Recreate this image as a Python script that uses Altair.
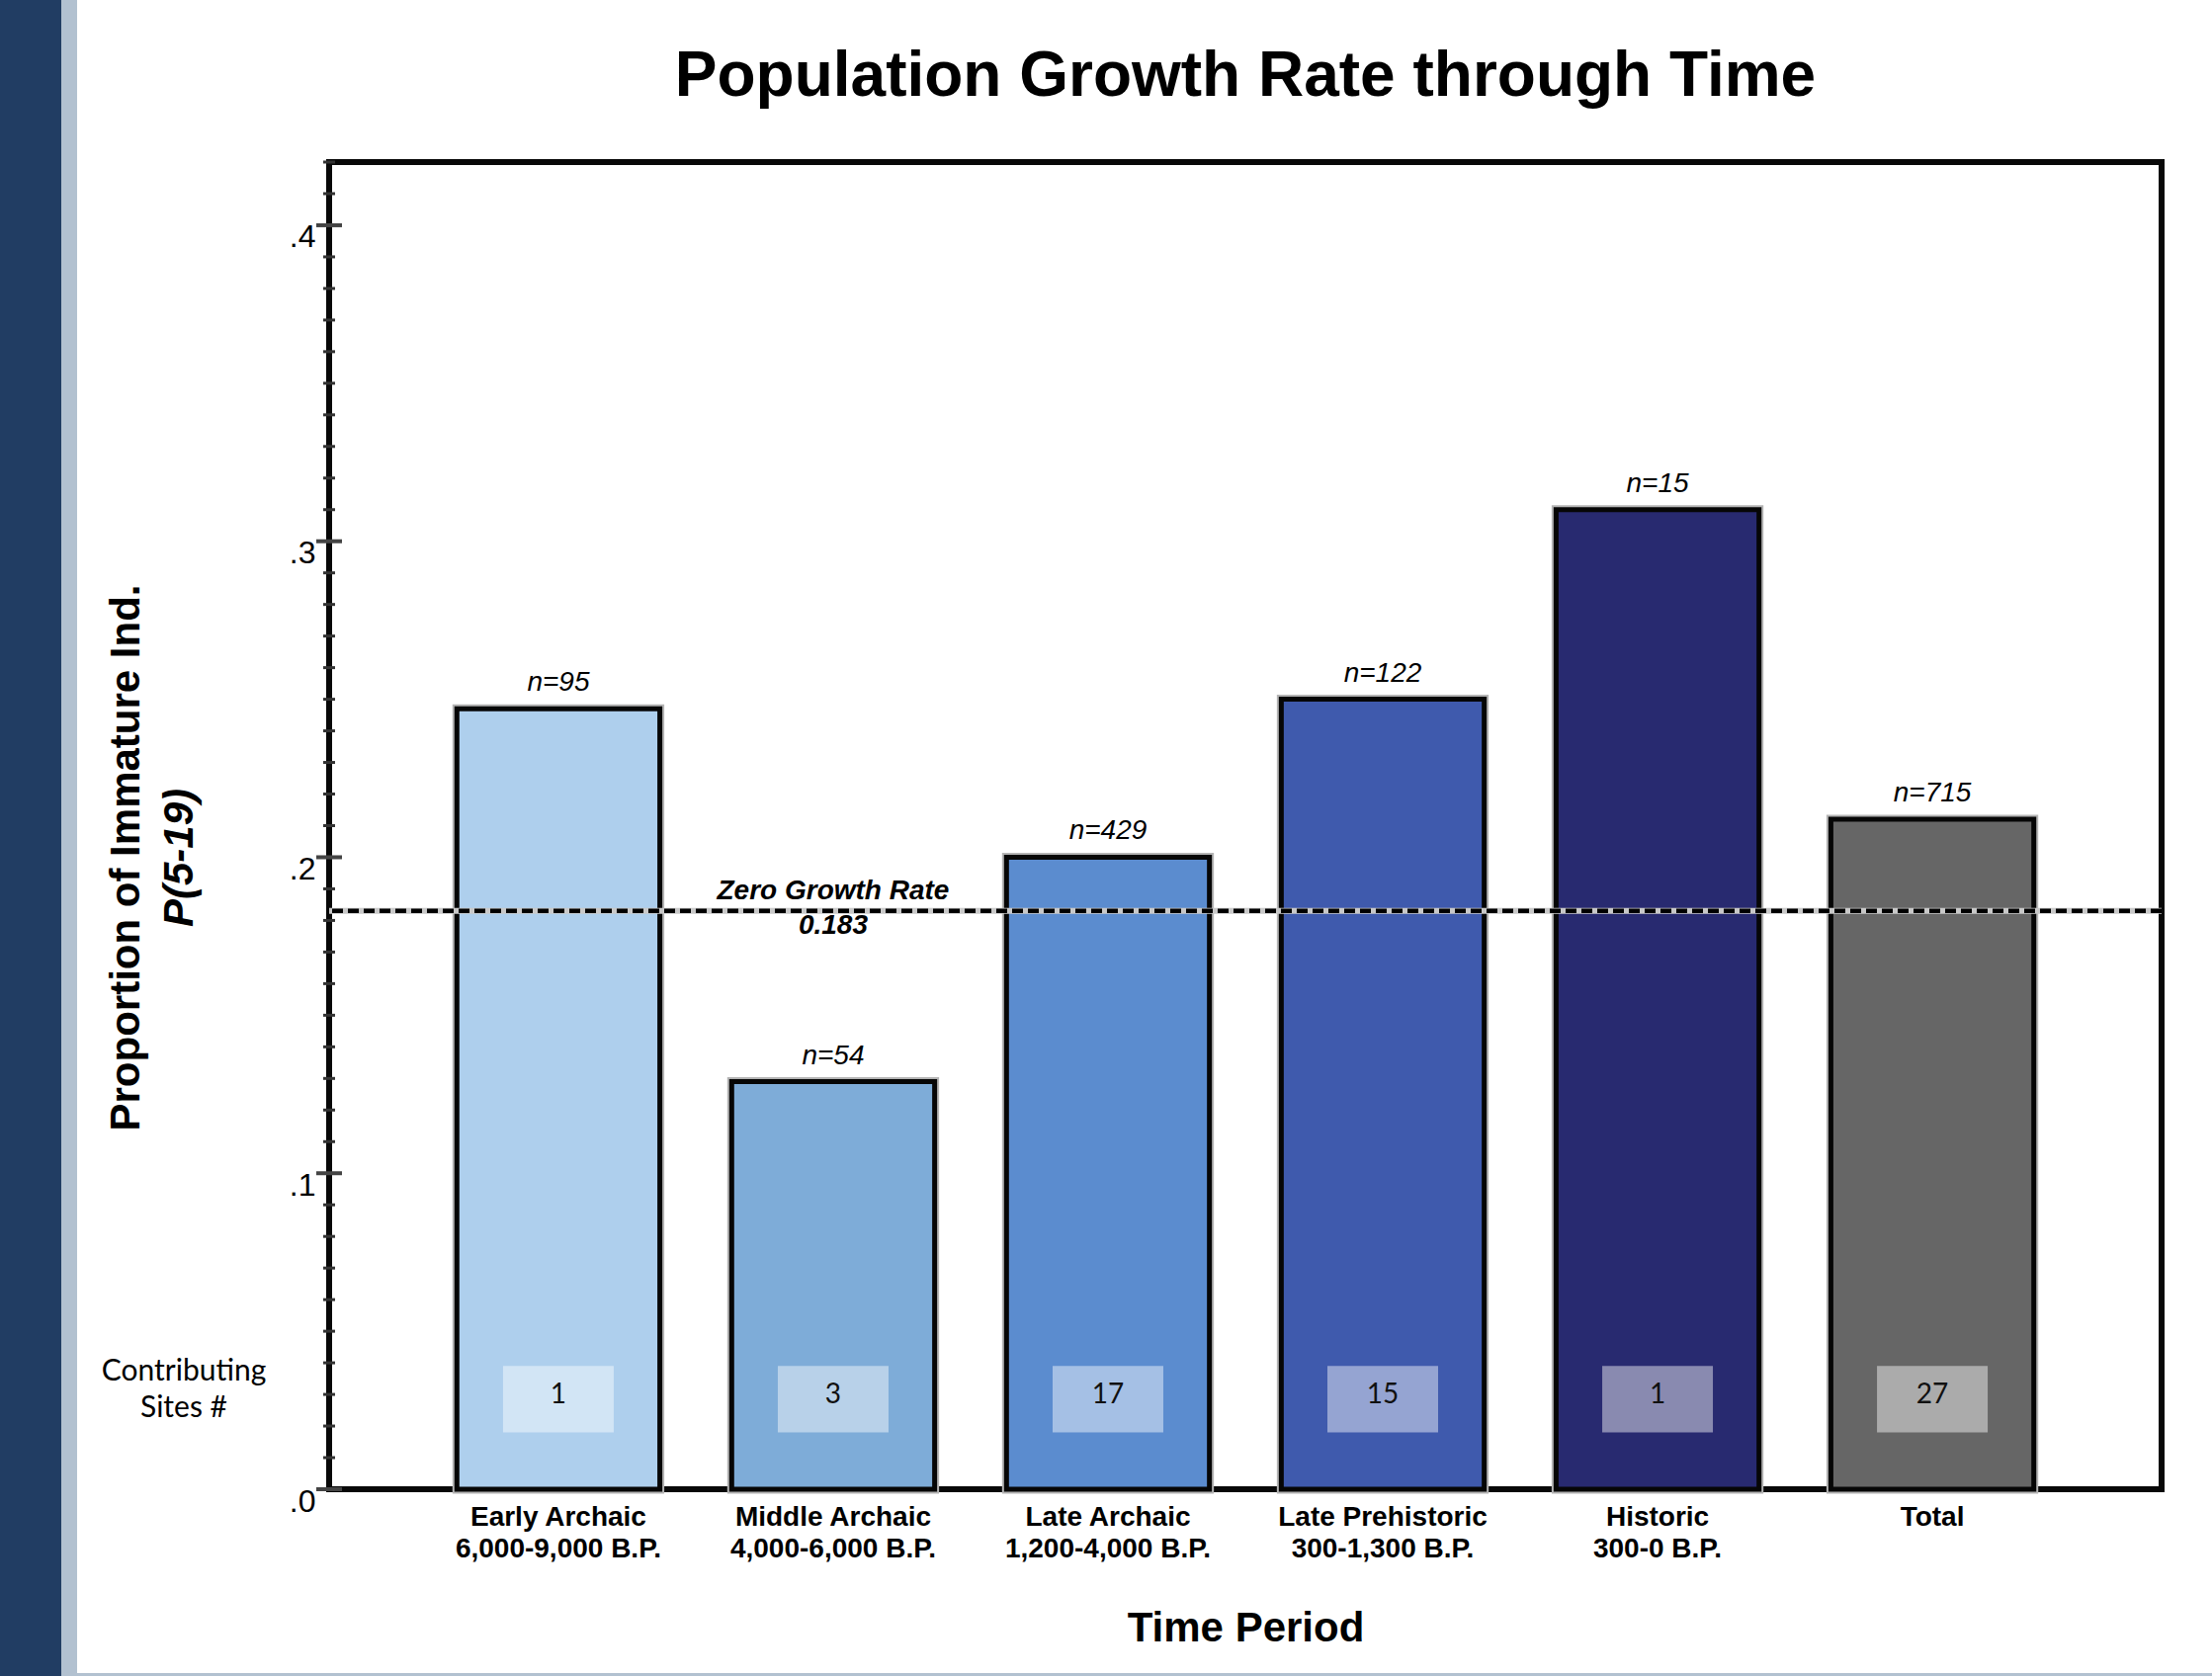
import altair as alt
import pandas as pd

# ---- chart values -------------------------------------------------------
periods = ["Early Archaic", "Middle Archaic", "Late Archaic",
           "Late Prehistoric", "Historic", "Total"]
date_ranges = ["6,000-9,000 B.P.", "4,000-6,000 B.P.", "1,200-4,000 B.P.",
               "300-1,300 B.P.", "300-0 B.P.", ""]
proportion_immature = [0.247, 0.129, 0.200, 0.250, 0.310, 0.212]
sample_size = [95, 54, 429, 122, 15, 715]
contributing_sites = [1, 3, 17, 15, 1, 27]
bar_colors = ["#aecfed", "#7eacd8", "#5b8ccf", "#3f5aad", "#282a70", "#666666"]

zero_growth_rate = 0.183
major_ticks = [0.0, 0.1, 0.2, 0.3, 0.4]
minor_ticks = [0.01, 0.02, 0.03, 0.04, 0.05, 0.06, 0.07, 0.08, 0.09,
               0.11, 0.12, 0.13, 0.14, 0.15, 0.16, 0.17, 0.18, 0.19,
               0.21, 0.22, 0.23, 0.24, 0.25, 0.26, 0.27, 0.28, 0.29,
               0.31, 0.32, 0.33, 0.34, 0.35, 0.36, 0.37, 0.38, 0.39,
               0.41, 0.42]

chart_title = "Population Growth Rate through Time"

# ---- layout / style -----------------------------------------------------
W, H = 1854, 1343
Y_MAX = 0.42
BOX_LOW, BOX_HIGH, BOX_MID = 0.018, 0.039, 0.0285
FONT = "Liberation Sans"
SOFT_FONT = "Lato"

categories = [p + ("\n" + r if r else "") for p, r in zip(periods, date_ranges)]

bars = pd.DataFrame({
    "period": categories,
    "value": proportion_immature,
    "n_label": [f"n={n}" for n in sample_size],
    "sites": [str(s) for s in contributing_sites],
    "fill": bar_colors,
})

x_enc = alt.X(
    "period:N",
    sort=categories,
    scale=alt.Scale(paddingInner=0.2615, paddingOuter=0.465),
    axis=alt.Axis(
        title="Time Period",
        labelExpr="split(datum.label, '\\n')",
        labelAngle=0, labelLimit=0,
        labelFont=FONT, labelFontSize=28, labelFontWeight="bold",
        labelColor="black", labelPadding=14, labelLineHeight=32,
        labelBaseline="top",
        domain=False, ticks=False, grid=False,
        titleFont=FONT, titleFontSize=42, titleFontWeight="bold",
        titleColor="black", titleY=140, titleBaseline="middle",
    ),
)

y_enc = alt.Y(
    "value:Q",
    scale=alt.Scale(domain=[0, Y_MAX], nice=False, zero=True),
    axis=alt.Axis(
        title=None,
        values=major_ticks,
        labelExpr="replace(format(datum.value, '.1f'), '0.', '.')",
        labelFont=FONT, labelFontSize=32, labelColor="black",
        labelPadding=14, labelOffset=12,
        ticks=False, domain=False, grid=False,
    ),
)

one_row = pd.DataFrame({"k": [0]})

# soft grey rim around each bar
bar_rim = alt.Chart(bars).mark_bar(
    color="#b4b4b4", stroke="#b4b4b4", strokeWidth=9
).encode(x=x_enc, y=y_enc)

bar_body = alt.Chart(bars).mark_bar(
    stroke="#060606", strokeWidth=5
).encode(x=x_enc, y=y_enc, fill=alt.Fill("fill:N", scale=None))

site_boxes = alt.Chart(bars).mark_bar(
    width=112, color="white", opacity=0.45
).encode(x=x_enc, y=alt.datum(BOX_LOW), y2=alt.datum(BOX_HIGH))

site_numbers = alt.Chart(bars).mark_text(
    font=SOFT_FONT, fontSize=28, color="#111111", baseline="middle", dy=-4
).encode(x=x_enc, y=alt.datum(BOX_MID), text="sites:N")

n_labels = alt.Chart(bars).mark_text(
    font=FONT, fontSize=28, fontStyle="italic", color="black",
    baseline="alphabetic", dy=-18
).encode(x=x_enc, y=y_enc, text="n_label:N")

zero_under = alt.Chart(one_row).mark_rule(
    color="#c8c8c8", strokeWidth=6
).encode(y=alt.datum(zero_growth_rate))

zero_line = alt.Chart(one_row).mark_rule(
    color="black", strokeWidth=4.5, strokeDash=[11, 5]
).encode(y=alt.datum(zero_growth_rate))

zero_label = alt.Chart(one_row).mark_text(
    font=FONT, fontSize=28, fontWeight="bold", fontStyle="italic",
    color="black", lineBreak="\n", lineHeight=35, baseline="middle",
    align="center", dy=-20
).encode(
    x=alt.datum(categories[1]),
    y=alt.datum(zero_growth_rate),
    text=alt.value(f"Zero Growth Rate\n{zero_growth_rate}"),
)

minor_tick_marks = alt.Chart(pd.DataFrame({"value": minor_ticks})).mark_rule(
    color="#333333", strokeWidth=3
).encode(y=y_enc, x=alt.value(-6), x2=alt.value(6))

major_tick_marks = alt.Chart(pd.DataFrame({"value": major_ticks})).mark_rule(
    color="#444444", strokeWidth=4
).encode(y=y_enc, x=alt.value(-13), x2=alt.value(13))

y_title_main = alt.Chart(one_row).mark_text(
    font=FONT, fontSize=42, fontWeight="bold", color="black",
    angle=270, align="center", baseline="middle"
).encode(x=alt.value(-205), y=alt.value(704),
         text=alt.value("Proportion of Immature Ind."))

y_title_sub = alt.Chart(one_row).mark_text(
    font=FONT, fontSize=42, fontWeight="bold", fontStyle="italic",
    color="black", angle=270, align="center", baseline="middle"
).encode(x=alt.value(-151), y=alt.value(704), text=alt.value("P(5-19)"))

sites_caption = alt.Chart(one_row).mark_text(
    font=SOFT_FONT, fontSize=30, color="black", lineBreak="\n",
    lineHeight=37, align="center", baseline="middle", dy=-28
).encode(x=alt.value(-147), y=alt.datum(BOX_MID),
         text=alt.value("Contributing\nSites #"))

# heading, centred over the plot frame
heading = alt.Chart(one_row).mark_text(
    font=FONT, fontSize=64, fontWeight="bold", color="black",
    align="center", baseline="alphabetic"
).encode(x=alt.value(W / 2), y=alt.value(-67), text=alt.value(chart_title))

# page decoration: navy side band, pale rule beside it and along the foot
side_band = alt.Chart(one_row).mark_rect(color="#213d63").encode(
    x=alt.value(-333), x2=alt.value(-271), y=alt.value(-164), y2=alt.value(1532))
side_rule = alt.Chart(one_row).mark_rect(color="#b2c1d0").encode(
    x=alt.value(-271), x2=alt.value(-255), y=alt.value(-164), y2=alt.value(1532))
foot_rule = alt.Chart(one_row).mark_rect(color="#b2c1d0").encode(
    x=alt.value(-255), x2=alt.value(1905), y=alt.value(1529), y2=alt.value(1532))

chart = alt.layer(
    side_band, side_rule, foot_rule,
    bar_rim, bar_body, site_boxes, site_numbers, n_labels,
    zero_under, zero_line, zero_label,
    minor_tick_marks, major_tick_marks,
    y_title_main, y_title_sub, sites_caption, heading,
).properties(
    width=W,
    height=H,
    autosize=alt.AutoSizeParams(type="none"),
    padding={"left": 333, "top": 164, "right": 51, "bottom": 189},
    background="white",
).configure_view(
    stroke="#080808", strokeWidth=6
)

chart.save("out.html", embed_options={"renderer": "svg", "actions": False})
